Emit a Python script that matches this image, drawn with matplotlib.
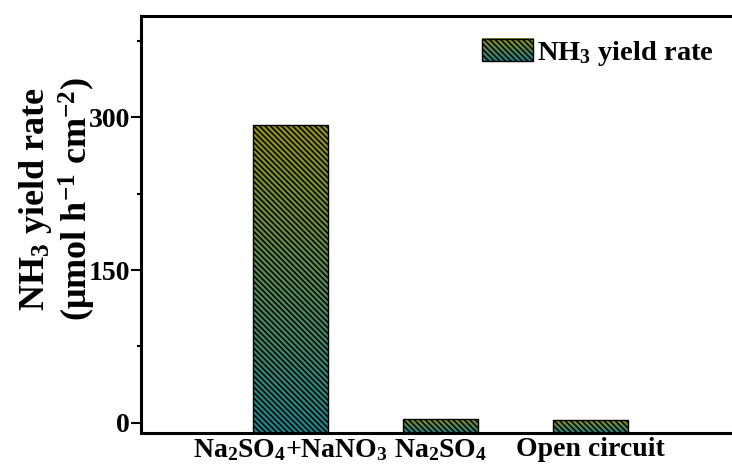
import numpy as np
import matplotlib
matplotlib.use('Agg')
import matplotlib.pyplot as plt
from matplotlib.colors import LinearSegmentedColormap
from matplotlib.patches import Rectangle
from matplotlib.image import BboxImage
from matplotlib.transforms import Bbox, TransformedBbox
from matplotlib.legend_handler import HandlerBase
from matplotlib.ticker import MultipleLocator

# data
categories = ['Na$_2$SO$_4$+NaNO$_3$', 'Na$_2$SO$_4$', 'Open circuit']
yield_rate = [293.0, 4.0, 2.5]
series_label = 'NH$_3$ yield rate'

plt.rcParams['font.family'] = 'Liberation Serif'
plt.rcParams['font.weight'] = 'bold'
plt.rcParams['mathtext.fontset'] = 'custom'
plt.rcParams['mathtext.rm'] = 'Liberation Serif:bold'
plt.rcParams['mathtext.it'] = 'Liberation Serif:italic:bold'
plt.rcParams['mathtext.bf'] = 'Liberation Serif:bold'
plt.rcParams['hatch.linewidth'] = 1.1

cmap = LinearSegmentedColormap.from_list('olive_teal', ['#1f8186', '#8f8f1e'])
gradient = np.linspace(0, 1, 256).reshape(-1, 1)
hatch = '\\' * 6
ymin, ymax = -10, 400
width = 0.5

fig = plt.figure(figsize=(7.32, 4.76), dpi=100)
ax = fig.add_axes([141 / 732, 1 - 433 / 476, 599 / 732, 417.3 / 476])

x = np.arange(len(categories))
for xi, val in zip(x, yield_rate):
    im = ax.imshow(gradient, cmap=cmap, origin='lower', aspect='auto',
                   extent=[xi - width / 2, xi + width / 2, ymin, val], zorder=2)
    clip = Rectangle((xi - width / 2, ymin), width, val - ymin, transform=ax.transData)
    im.set_clip_path(clip)

heights = [v - ymin for v in yield_rate]
ax.bar(x, heights, bottom=ymin, width=width, facecolor='none', edgecolor='black',
       hatch=hatch, linewidth=1.0, zorder=3)


class GradientHandler(HandlerBase):
    def create_artists(self, legend, orig_handle, xdescent, ydescent, width, height, fontsize, trans):
        bbox = TransformedBbox(Bbox.from_bounds(-xdescent, -ydescent, width, height), trans)
        img = BboxImage(bbox, cmap=cmap, origin='lower', interpolation='bilinear')
        img.set_data(gradient)
        rect = Rectangle((-xdescent, -ydescent), width, height, facecolor='none',
                         edgecolor='black', hatch=hatch, linewidth=1.0, transform=trans)
        return [img, rect]


proxy = Rectangle((0, 0), 1, 1)
ax.legend([proxy], [series_label], handler_map={Rectangle: GradientHandler()},
          loc='upper left', bbox_to_anchor=(0.569, 0.945), frameon=False,
          fontsize=20.5, handlelength=1.8, handleheight=0.84, handletextpad=0.15,
          borderpad=0, borderaxespad=0)

ax.set_xlim(-1, 3)
ax.set_ylim(ymin, ymax)
ax.set_xticks(x)
ax.set_xticklabels(categories, fontsize=20, fontweight='bold')
ax.yaxis.set_major_locator(MultipleLocator(150))
ax.yaxis.set_minor_locator(MultipleLocator(75))
ax.tick_params(axis='x', length=0, pad=3)
ax.tick_params(axis='y', which='major', direction='out', length=7, width=1.5,
               labelsize=20, pad=1)
ax.tick_params(axis='y', which='minor', direction='out', length=3, width=1.5)
for lbl in ax.get_yticklabels():
    lbl.set_fontweight('bold')
for side in ['left', 'bottom', 'top', 'right']:
    ax.spines[side].set_linewidth(2.2)

ylab = ax.set_ylabel(series_label + '\n(\u03bcmol h$^{-1}$ cm$^{-2}$)', fontsize=26,
                     fontweight='bold', linespacing=1.1)
ylab.set_verticalalignment('center')
ax.yaxis.set_label_coords(-0.14, 0.56)

fig.savefig('out.png', dpi=100)
